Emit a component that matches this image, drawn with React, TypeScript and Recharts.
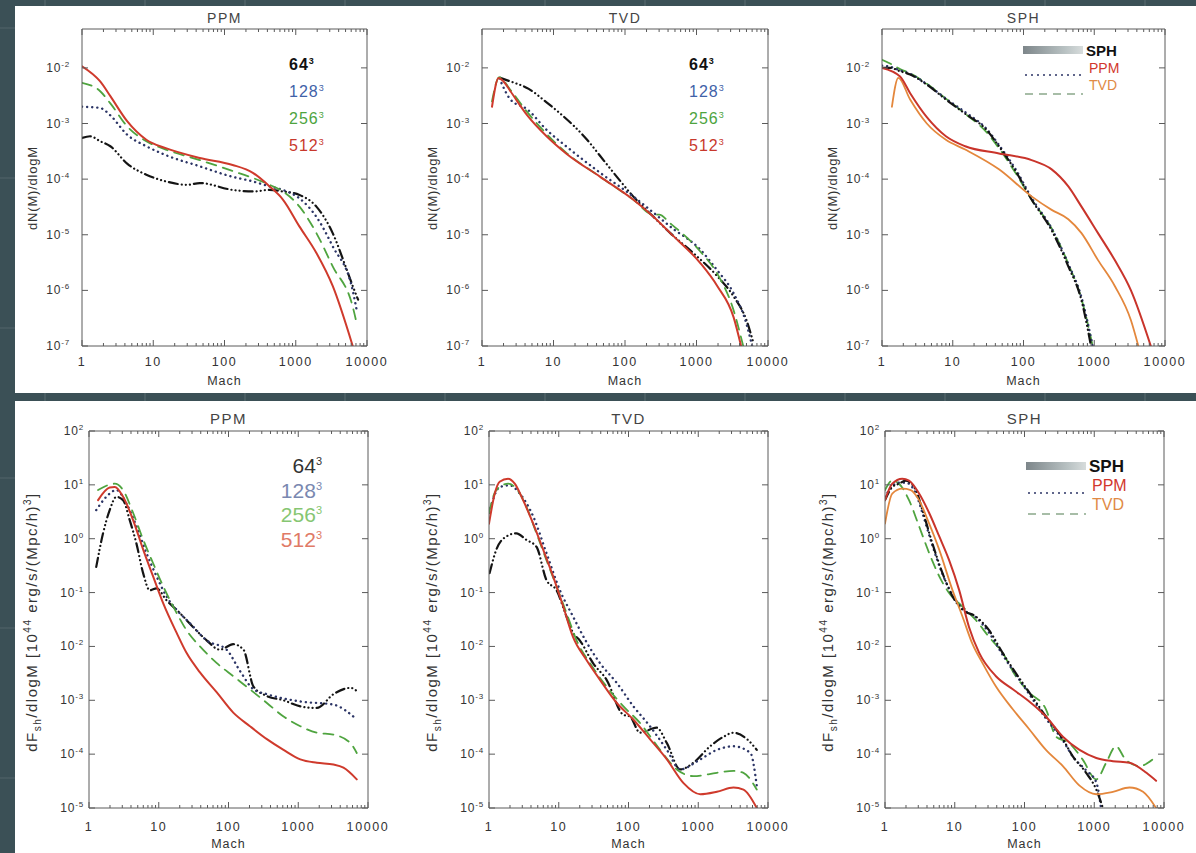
import React from "react";
import { LineChart, Line, XAxis, YAxis } from "recharts";

const FONT = '"Liberation Sans", Arial, Helvetica, sans-serif';

// ---- axis ticks ----
const machMajor = [1, 10, 100, 1000, 10000];
const machLabels = ["1", "10", "100", "1000", "10000"];
const nDecades = [1e-7, 1e-6, 1e-5, 1e-4, 1e-3, 1e-2];
const fDecades = [1e-5, 1e-4, 1e-3, 1e-2, 1e-1, 1, 10, 100];
const resLabels = ["64", "128", "256", "512"];

// ---- top row: dN(M)/dlogM ----
// PPM
const nPpm512M = [1, 1.8, 2.5, 4.3, 8, 15, 45, 130, 250, 430, 660, 1130, 1950, 3300, 6300];
const nPpm512 = [1.07e-2, 5.7e-3, 3.1e-3, 1.1e-3, 5.1e-4, 3.6e-4, 2.4e-4, 1.8e-4, 1.3e-4, 7.4e-5, 4.3e-5, 1.4e-5, 4.7e-6, 1.2e-6, 1e-7];
const nPpm256M = [1, 1.8, 2.5, 4.3, 8, 15, 45, 130, 250, 430, 660, 1130, 1950, 3300, 6300, 7300];
const nPpm256 = [5.4e-3, 3.8e-3, 2.3e-3, 8.9e-4, 4.8e-4, 3.4e-4, 2.2e-4, 1.4e-4, 1.05e-4, 7.9e-5, 6e-5, 3.2e-5, 1.07e-5, 2.7e-6, 5.1e-7, 2.3e-7];
const nPpm128M = [1, 1.8, 2.5, 4.3, 8, 15, 45, 130, 250, 430, 660, 1130, 1950, 3300, 6300, 7300];
const nPpm128 = [2e-3, 1.9e-3, 1.4e-3, 6.3e-4, 3.9e-4, 2.7e-4, 1.7e-4, 1.1e-4, 9.1e-5, 7.4e-5, 6.4e-5, 4.5e-5, 2.1e-5, 6.2e-6, 1e-6, 3.9e-7];
const nPpm64M = [1, 1.3, 1.8, 2.5, 4.3, 8, 15, 30, 45, 130, 250, 430, 660, 1130, 1950, 3300, 5000, 6300, 7500];
const nPpm64 = [5.5e-4, 5.9e-4, 4.8e-4, 3.9e-4, 1.9e-4, 1.2e-4, 9.1e-5, 7.9e-5, 8.5e-5, 6.4e-5, 6e-5, 6.4e-5, 6e-5, 5.2e-5, 3.2e-5, 1.07e-5, 2.7e-6, 1.2e-6, 6.8e-7];
// TVD
const nTvd512M = [1.38, 1.71, 2.0, 2.5, 4.3, 8, 15, 45, 130, 250, 430, 1130, 1950, 3300, 4200];
const nTvd512 = [2e-3, 6.6e-3, 5.7e-3, 3.8e-3, 1.4e-3, 5.9e-4, 2.9e-4, 1.1e-4, 4.3e-5, 2.1e-5, 1.07e-5, 3.1e-6, 1.2e-6, 3.3e-7, 1e-7];
const nTvd256M = [1.38, 1.75, 2.5, 4.3, 8, 15, 45, 130, 250, 300, 430, 1130, 1950, 3300, 4500];
const nTvd256 = [2.5e-3, 6.8e-3, 4e-3, 1.6e-3, 6.5e-4, 3e-4, 1.1e-4, 4.3e-5, 2.3e-5, 2.3e-5, 1.6e-5, 5e-6, 2e-6, 4.4e-7, 1e-7];
const nTvd128M = [1.75, 2.5, 4.3, 8, 15, 45, 130, 250, 430, 1130, 1950, 3300, 5000, 6000];
const nTvd128 = [6.5e-3, 2.7e-3, 1.8e-3, 7.7e-4, 3.9e-4, 1.3e-4, 4.9e-5, 2.5e-5, 1.4e-5, 5.4e-6, 2.3e-6, 8.9e-7, 2.5e-7, 1e-7];
const nTvd64M = [1.8, 2.5, 4.5, 8, 12.5, 29.5, 45, 77, 130, 250, 430, 900, 1950, 3300, 5000, 6300];
const nTvd64 = [6.6e-3, 5.7e-3, 4.2e-3, 2.4e-3, 1.5e-3, 5.1e-4, 2.6e-4, 1.1e-4, 4.9e-5, 2.1e-5, 1.07e-5, 4.7e-6, 1.8e-6, 7.8e-7, 2.9e-7, 1.1e-7];
// SPH
const nSphPpmM = [1, 1.8, 2.5, 4.3, 8, 15, 45, 130, 250, 430, 660, 1130, 1950, 3300, 6300];
const nSphPpm = [1e-2, 7e-3, 3.5e-3, 1.3e-3, 5.9e-4, 3.9e-4, 2.9e-4, 2.2e-4, 1.5e-4, 7.4e-5, 3.2e-5, 1.07e-5, 3.5e-6, 1e-6, 1e-7];
const nSphTvdM = [1.38, 1.7, 2.5, 4.3, 8, 15, 45, 130, 250, 430, 660, 1130, 1950, 3300, 4200];
const nSphTvd = [2e-3, 6.6e-3, 2.7e-3, 1e-3, 5.1e-4, 3.4e-4, 1.5e-4, 4.9e-5, 2.8e-5, 1.9e-5, 1.07e-5, 3.5e-6, 1.2e-6, 2.9e-7, 1e-7];
const nSphAM = [1, 1.3, 1.8, 2.5, 4.3, 8, 15, 30, 45, 80, 130, 250, 430, 660, 900];
const nSphA = [1e-2, 1e-2, 8.7e-3, 7.6e-3, 5e-3, 2.7e-3, 1.5e-3, 7.7e-4, 3.9e-4, 1.3e-4, 4.3e-5, 1.2e-5, 2.7e-6, 6.6e-7, 1e-7];
const nSphBM = [1, 1.3, 1.8, 2.5, 4.3, 8, 15, 30, 45, 80, 130, 250, 430, 660, 950];
const nSphB = [1.1e-2, 1.05e-2, 9e-3, 7.8e-3, 5.1e-3, 2.8e-3, 1.6e-3, 8e-4, 4.1e-4, 1.4e-4, 4.6e-5, 1.3e-5, 3e-6, 7.5e-7, 1e-7];
const nSphCM = [1, 1.3, 1.8, 2.5, 4.3, 8, 15, 30, 45, 80, 130, 250, 430, 660, 950];
const nSphC = [1.4e-2, 1.2e-2, 9.5e-3, 8e-3, 5.2e-3, 2.8e-3, 1.5e-3, 7e-4, 3.6e-4, 1.2e-4, 4.3e-5, 1.3e-5, 3e-6, 7e-7, 1e-7];

// ---- bottom row: dF/dlogM ----
// PPM
const fPpm512M = [1.35, 1.98, 2.34, 3.08, 4.3, 6, 8.3, 11.6, 18, 25, 39, 68, 117, 203, 355, 615, 1070, 1850, 3200, 4450, 6900];
const fPpm512 = [5.2, 8.9, 9.1, 6, 2.2, 0.62, 0.2, 0.063, 0.018, 7.6e-3, 3.3e-3, 1.4e-3, 5.9e-4, 3.3e-4, 1.9e-4, 1.2e-4, 8e-5, 6.9e-5, 6.4e-5, 5.6e-5, 3.4e-5];
const fPpm256M = [1.35, 2.34, 3.08, 4.3, 6, 8.3, 11.6, 18, 25, 39, 68, 117, 203, 355, 615, 1070, 1850, 3200, 5600, 6900];
const fPpm256 = [8, 10.5, 8, 3, 0.95, 0.35, 0.13, 0.042, 0.02, 0.01, 4.9e-3, 2.8e-3, 1.6e-3, 8.9e-4, 5e-4, 3.3e-4, 2.5e-4, 2.3e-4, 1.6e-4, 1.05e-4];
const fPpm128M = [1.27, 1.77, 2.47, 3.44, 4.79, 6.67, 9.3, 12.9, 18, 28, 48.5, 94, 146, 228, 355, 1070, 3200, 6900];
const fPpm128 = [3.4, 6, 8, 4.5, 1.7, 0.54, 0.2, 0.085, 0.048, 0.027, 0.013, 8.7e-3, 3.5e-3, 1.6e-3, 1.3e-3, 9.5e-4, 8.3e-4, 4.4e-4];
const fPpm64M = [1.27, 1.59, 1.98, 2.47, 3.08, 3.84, 4.79, 5.97, 7.44, 9.3, 12.9, 20, 31, 48.5, 75, 117, 164, 228, 355, 615, 1070, 1850, 3200, 5600, 7300];
const fPpm64 = [0.3, 1.26, 3.4, 6, 5.2, 2.2, 0.81, 0.23, 0.11, 0.12, 0.072, 0.042, 0.023, 0.013, 8.7e-3, 0.011, 8.7e-3, 1.8e-3, 1.2e-3, 1e-3, 7.7e-4, 7.2e-4, 1.3e-3, 1.7e-3, 1.4e-3];
// TVD
const fTvd512M = [1, 1.21, 1.42, 1.88, 2.34, 3.08, 4.3, 6, 8.3, 11.6, 16, 25, 39, 68, 117, 203, 355, 615, 1070, 1850, 3200, 4450, 6900];
const fTvd512 = [1.9, 6.9, 11.4, 13, 10.5, 5.2, 1.9, 0.62, 0.2, 0.055, 0.015, 5.6e-3, 2.4e-3, 8.9e-4, 4.4e-4, 1.9e-4, 8e-5, 2.9e-5, 1.8e-5, 2e-5, 2.4e-5, 2.2e-5, 1e-5];
const fTvd256M = [1, 1.27, 1.88, 2.47, 3.44, 4.79, 6.67, 9.3, 12.9, 18, 28, 48.5, 84, 146, 284, 493, 850, 1850, 3200, 4450, 6900];
const fTvd256 = [3, 8, 10.5, 8.5, 3.9, 1.26, 0.4, 0.13, 0.042, 0.013, 4.9e-3, 1.8e-3, 7.8e-4, 3.8e-4, 1.2e-4, 5.2e-5, 3.9e-5, 4.5e-5, 4.9e-5, 4.5e-5, 2.2e-5];
const fTvd128M = [1, 1.42, 1.98, 2.76, 4.3, 6.67, 10.4, 16, 25, 39, 68, 117, 203, 355, 550, 1070, 1850, 3200, 5600, 6900];
const fTvd128 = [3, 9.1, 9.8, 6.9, 2.6, 0.54, 0.11, 0.036, 0.012, 4.9e-3, 2.1e-3, 7.8e-4, 3.3e-4, 1.2e-4, 5.2e-5, 8e-5, 1.2e-4, 1.4e-4, 1.05e-4, 2.6e-5];
const fTvd64M = [1.02, 1.27, 1.77, 2.47, 3.44, 4.79, 6.67, 9.3, 12.9, 16, 20, 31, 48.5, 84, 105, 146, 253, 355, 550, 850, 1480, 2300, 3200, 5000, 6900];
const fTvd64 = [0.23, 0.62, 1.1, 1.26, 0.95, 0.71, 0.17, 0.11, 0.036, 0.018, 0.013, 4.9e-3, 2.4e-3, 5.4e-4, 5e-4, 2.5e-4, 3.1e-4, 1.6e-4, 5.2e-5, 6.9e-5, 1.4e-4, 2.1e-4, 2.5e-4, 1.9e-4, 1.2e-4];
// SPH
const fSphPpmM = [1, 1.27, 1.77, 2.21, 3.08, 4.3, 6, 8.3, 11.6, 16, 22.4, 39, 68, 117, 203, 355, 615, 1070, 1850, 3200, 5600, 7700];
const fSphPpm = [5.2, 10.5, 13, 12, 6.9, 3, 1.1, 0.4, 0.11, 0.023, 7.6e-3, 2.8e-3, 1.6e-3, 9.5e-4, 5e-4, 2.1e-4, 1.2e-4, 8.5e-5, 7.4e-5, 6.9e-5, 4.5e-5, 3.2e-5];
const fSphTvdM = [1, 1.27, 1.77, 2.34, 3.08, 4.3, 6, 9.3, 12.9, 18, 25, 39, 68, 117, 203, 355, 615, 1070, 1850, 3200, 5000, 7700];
const fSphTvd = [1.9, 6.9, 8.5, 8, 5.2, 1.9, 0.62, 0.11, 0.036, 0.011, 4.9e-3, 1.8e-3, 6.8e-4, 2.9e-4, 1.2e-4, 6e-5, 2.6e-5, 1.8e-5, 2e-5, 2.4e-5, 2e-5, 1e-5];
const fSphAM = [1, 1.27, 1.59, 1.98, 2.76, 3.44, 4.79, 6.67, 9.3, 12.9, 20, 31, 48.5, 75, 117, 203, 355, 493, 765, 1070, 1330];
const fSphA = [5.2, 9.1, 10.5, 12, 8, 3.4, 0.81, 0.23, 0.085, 0.048, 0.036, 0.02, 7.6e-3, 3.2e-3, 1.4e-3, 5e-4, 1.9e-4, 9.1e-5, 4.5e-5, 2.2e-5, 1e-5];
const fSphBM = [1, 1.27, 1.59, 1.98, 2.76, 3.44, 4.79, 6.67, 9.3, 12.9, 20, 31, 48.5, 75, 117, 203, 355, 493, 765, 1070, 1250];
const fSphB = [6, 9.5, 11, 11, 7, 3, 0.75, 0.22, 0.09, 0.05, 0.035, 0.018, 7e-3, 3e-3, 1.3e-3, 4.6e-4, 1.8e-4, 9e-5, 5e-5, 3e-5, 1e-5];
const fSphCM = [1, 1.27, 1.59, 2.21, 3.08, 4.3, 6, 8.3, 12.9, 20, 31, 48.5, 75, 117, 203, 284, 440, 680, 1070, 1480, 2050, 2800, 4450, 6900];
const fSphC = [8, 12, 10.5, 5.2, 1.7, 0.54, 0.2, 0.098, 0.055, 0.031, 0.015, 7.6e-3, 2.8e-3, 1.4e-3, 6.8e-4, 2.1e-4, 1.6e-4, 8e-5, 3.4e-5, 6.9e-5, 1.4e-4, 8e-5, 6e-5, 8e-5];

// ---- styles ----
type LineStyle = { stroke: string; strokeWidth: number; strokeDasharray?: string };
const st: Record<string, LineStyle> = {
  r64: { stroke: "#141414", strokeWidth: 2.2, strokeDasharray: "9 4 0.1 4 0.1 4 0.1 4" },
  r128: { stroke: "#2c3566", strokeWidth: 2.4, strokeDasharray: "0.1 5" },
  r256: { stroke: "#4fa43f", strokeWidth: 1.8, strokeDasharray: "10 7" },
  r512: { stroke: "#cf3a2c", strokeWidth: 2 },
  ppm: { stroke: "#c9342b", strokeWidth: 2 },
  tvd: { stroke: "#e4873c", strokeWidth: 1.8 },
};

type Series = { key: string; m: number[]; v: number[]; s: LineStyle };

const pts = (m: number[], v: number[]) => m.map((x, i) => ({ m: x, v: v[i] }));

const machMinor = machMajor
  .slice(0, -1)
  .flatMap((d) => [2, 3, 4, 5, 6, 7, 8, 9].map((k) => d * k));
const machTicks = [...machMajor, ...machMinor].sort((a, b) => a - b);

const FRAME = "#5a5a5a";

function XTick(props: any) {
  const { x, y, payload, side, labelDy } = props;
  const i = machMajor.indexOf(payload.value);
  const len = i >= 0 ? 6 : 3;
  const dir = side === "bottom" ? -1 : 1;
  return (
    <g>
      <line x1={x} y1={y} x2={x} y2={y + dir * len} stroke={FRAME} strokeWidth={1} />
      {side === "bottom" && i >= 0 && (
        <text
          x={x}
          y={y + labelDy}
          textAnchor="middle"
          fontSize={12.5}
          letterSpacing={1.6}
          fill="#333"
          fontFamily={FONT}
        >
          {machLabels[i]}
        </text>
      )}
    </g>
  );
}

function YTick(props: any) {
  const { x, y, payload, side, labelDx } = props;
  const dir = side === "left" ? 1 : -1;
  const exp = Math.round(Math.log10(payload.value));
  return (
    <g>
      <line x1={x} y1={y} x2={x + dir * 6} y2={y} stroke={FRAME} strokeWidth={1} />
      {side === "left" && (
        <text
          x={x - labelDx}
          y={y + 4}
          textAnchor="end"
          fontSize={12}
          letterSpacing={0.8}
          fill="#333"
          fontFamily={FONT}
        >
          10
          <tspan dy={-5} fontSize={8}>
            {exp}
          </tspan>
        </text>
      )}
    </g>
  );
}

type Box = { x0: number; x1: number; y0: number; y1: number };

function Panel({
  box,
  yDomain,
  yTicks,
  series,
  labelDy,
  labelDx,
}: {
  box: Box;
  yDomain: [number, number];
  yTicks: number[];
  series: Series[];
  labelDy: number;
  labelDx: number;
}) {
  const padL = 70;
  const padR = 25;
  const padT = 25;
  const padB = 40;
  const w = box.x1 - box.x0 + padL + padR;
  const h = box.y1 - box.y0 + padT + padB;
  return (
    <div style={{ position: "absolute", left: box.x0 - padL, top: box.y0 - padT }}>
      <LineChart
        width={w}
        height={h}
        margin={{ top: padT - 2, right: padR - 2, bottom: padB - 30, left: padL - 50 }}
      >
        <XAxis
          xAxisId="b"
          type="number"
          dataKey="m"
          scale="log"
          domain={[1, 10000]}
          allowDataOverflow
          ticks={machTicks}
          interval={0}
          tickSize={0}
          tickMargin={0}
          tickLine={false}
          stroke={FRAME}
          height={30}
          tick={(p: any) => <XTick {...p} side="bottom" labelDy={labelDy} />}
        />
        <XAxis
          xAxisId="t"
          orientation="top"
          type="number"
          dataKey="m"
          scale="log"
          domain={[1, 10000]}
          allowDataOverflow
          ticks={machTicks}
          interval={0}
          tickSize={0}
          tickMargin={0}
          tickLine={false}
          stroke={FRAME}
          height={2}
          tick={(p: any) => <XTick {...p} side="top" />}
        />
        <YAxis
          yAxisId="l"
          type="number"
          scale="log"
          domain={yDomain}
          allowDataOverflow
          ticks={yTicks}
          interval={0}
          tickSize={0}
          tickMargin={0}
          tickLine={false}
          stroke={FRAME}
          width={50}
          tick={(p: any) => <YTick {...p} side="left" labelDx={labelDx} />}
        />
        <YAxis
          yAxisId="r"
          orientation="right"
          type="number"
          scale="log"
          domain={yDomain}
          allowDataOverflow
          ticks={yTicks}
          interval={0}
          tickSize={0}
          tickMargin={0}
          tickLine={false}
          stroke={FRAME}
          width={2}
          tick={(p: any) => <YTick {...p} side="right" />}
        />
        {series.map((s) => (
          <Line
            key={s.key}
            xAxisId="b"
            yAxisId="l"
            data={pts(s.m, s.v)}
            dataKey="v"
            type="monotone"
            dot={false}
            activeDot={false}
            strokeLinecap="round"
            isAnimationActive={false}
            {...s.s}
          />
        ))}
      </LineChart>
    </div>
  );
}

const topBoxes: Box[] = [
  { x0: 82, x1: 367, y0: 29, y1: 346 },
  { x0: 482, x1: 768, y0: 29, y1: 346 },
  { x0: 882, x1: 1165, y0: 29, y1: 346 },
];
const botBoxes: Box[] = [
  { x0: 89, x1: 368, y0: 431, y1: 808 },
  { x0: 489, x1: 768, y0: 431, y1: 808 },
  { x0: 885, x1: 1164, y0: 431, y1: 808 },
];
const titles = ["PPM", "TVD", "SPH"];

const topSeries: Series[][] = [
  [
    { key: "64", m: nPpm64M, v: nPpm64, s: st.r64 },
    { key: "128", m: nPpm128M, v: nPpm128, s: st.r128 },
    { key: "256", m: nPpm256M, v: nPpm256, s: st.r256 },
    { key: "512", m: nPpm512M, v: nPpm512, s: st.r512 },
  ],
  [
    { key: "64", m: nTvd64M, v: nTvd64, s: st.r64 },
    { key: "128", m: nTvd128M, v: nTvd128, s: st.r128 },
    { key: "256", m: nTvd256M, v: nTvd256, s: st.r256 },
    { key: "512", m: nTvd512M, v: nTvd512, s: st.r512 },
  ],
  [
    { key: "a", m: nSphCM, v: nSphC, s: st.r256 },
    { key: "b", m: nSphBM, v: nSphB, s: st.r128 },
    { key: "c", m: nSphAM, v: nSphA, s: st.r64 },
    { key: "tvd", m: nSphTvdM, v: nSphTvd, s: st.tvd },
    { key: "ppm", m: nSphPpmM, v: nSphPpm, s: st.ppm },
  ],
];
const botSeries: Series[][] = [
  [
    { key: "64", m: fPpm64M, v: fPpm64, s: st.r64 },
    { key: "128", m: fPpm128M, v: fPpm128, s: st.r128 },
    { key: "256", m: fPpm256M, v: fPpm256, s: st.r256 },
    { key: "512", m: fPpm512M, v: fPpm512, s: st.r512 },
  ],
  [
    { key: "64", m: fTvd64M, v: fTvd64, s: st.r64 },
    { key: "128", m: fTvd128M, v: fTvd128, s: st.r128 },
    { key: "256", m: fTvd256M, v: fTvd256, s: st.r256 },
    { key: "512", m: fTvd512M, v: fTvd512, s: st.r512 },
  ],
  [
    { key: "a", m: fSphCM, v: fSphC, s: st.r256 },
    { key: "b", m: fSphBM, v: fSphB, s: st.r128 },
    { key: "c", m: fSphAM, v: fSphA, s: st.r64 },
    { key: "tvd", m: fSphTvdM, v: fSphTvd, s: st.tvd },
    { key: "ppm", m: fSphPpmM, v: fSphPpm, s: st.ppm },
  ],
];

const abs = (left: number, top: number, extra: React.CSSProperties = {}): React.CSSProperties => ({
  position: "absolute",
  left,
  top,
  fontFamily: FONT,
  lineHeight: 1,
  whiteSpace: "nowrap",
  ...extra,
});

function Centered({ cx, cy, size, color, children, rotate, spacing = 0 }: any) {
  return (
    <div
      style={abs(cx, cy, {
        fontSize: size,
        color,
        letterSpacing: spacing,
        transform: `translate(-50%, -50%)${rotate ? " rotate(-90deg)" : ""}`,
      })}
    >
      {children}
    </div>
  );
}

const topResColors = ["#111", "#3f62a8", "#4ea43e", "#c8382c"];
const botResColors = ["#333", "#7a88b0", "#86c672", "#e07a66"];

function SphLegend({ x, y, big }: { x: number; y: number; big: boolean }) {
  const fs = big ? 17 : 15;
  const gap = big ? 23 : 21;
  return (
    <>
      <div
        style={{
          position: "absolute",
          left: x,
          top: y - 4,
          width: 60,
          height: 8,
          background: "linear-gradient(90deg, #7d868a, #b9c2c3 70%, #d7dcdc)",
        }}
      />
      <div style={abs(x + 63, y - fs / 2, { fontSize: fs, fontWeight: "bold", color: "#111" })}>SPH</div>
      <svg style={{ position: "absolute", left: x, top: y + gap - 2 }} width={62} height={12}>
        <line x1={2} y1={6} x2={60} y2={6} stroke="#2c3566" strokeWidth={1.6} strokeDasharray="2 4" />
      </svg>
      <div style={abs(x + 66, y + gap - 3 - fs / 2, { fontSize: fs - 1, color: "#d2372c" })}>PPM</div>
      <svg style={{ position: "absolute", left: x, top: y + 2 * gap - 4 }} width={62} height={12}>
        <line x1={2} y1={6} x2={60} y2={6} stroke="#8aa88a" strokeWidth={1.6} strokeDasharray="8 6" />
      </svg>
      <div style={abs(x + 66, y + 2 * gap - 7 - fs / 2, { fontSize: fs - 1, color: "#e08a45" })}>TVD</div>
    </>
  );
}

export default function App() {
  return (
    <div
      style={{
        position: "absolute",
        left: 0,
        top: 0,
        width: 1196,
        height: 853,
        overflow: "hidden",
        background:
          "repeating-linear-gradient(90deg, transparent 0 44px, rgba(255,255,255,0.08) 44px 46px, transparent 46px 100px), repeating-linear-gradient(0deg, transparent 0 74px, rgba(255,255,255,0.06) 74px 76px, transparent 76px 150px), #3b5056",
      }}
    >
      <div style={{ position: "absolute", left: 15, top: 6, width: 1181, height: 387, background: "#fff" }} />
      <div style={{ position: "absolute", left: 15, top: 401, width: 1181, height: 452, background: "#fff" }} />

      {topBoxes.map((b, i) => (
        <React.Fragment key={"t" + i}>
          <Panel box={b} yDomain={[1e-7, 0.05]} yTicks={nDecades} series={topSeries[i]} labelDy={20} labelDx={12} />
          <Centered cx={(b.x0 + b.x1) / 2} cy={18} size={14} color="#444" spacing={1.5}>
            {titles[i]}
          </Centered>
          <Centered cx={(b.x0 + b.x1) / 2} cy={381} size={12.5} color="#333" spacing={1}>
            Mach
          </Centered>
          <Centered cx={b.x0 - 50} cy={(b.y0 + b.y1) / 2} size={13} color="#333" spacing={0.8} rotate>
            dN(M)/dlogM
          </Centered>
        </React.Fragment>
      ))}
      {botBoxes.map((b, i) => (
        <React.Fragment key={"b" + i}>
          <Panel box={b} yDomain={[1e-5, 100]} yTicks={fDecades} series={botSeries[i]} labelDy={23} labelDx={5} />
          <Centered cx={(b.x0 + b.x1) / 2} cy={418} size={15} color="#444" spacing={1.5}>
            {titles[i]}
          </Centered>
          <Centered cx={(b.x0 + b.x1) / 2} cy={844} size={12.5} color="#333" spacing={1}>
            Mach
          </Centered>
          <Centered cx={b.x0 - 56} cy={622} size={15} color="#333" spacing={1.5} rotate>
            dF<sub style={{ fontSize: 10 }}>sh</sub>/dlogM [10<sup style={{ fontSize: 10 }}>44</sup> erg/s/(Mpc/h)
            <sup style={{ fontSize: 10 }}>3</sup>]
          </Centered>
        </React.Fragment>
      ))}

      {[0, 1].map((p) =>
        resLabels.map((r, k) => (
          <div
            key={`tl${p}${k}`}
            style={abs(topBoxes[p].x0 + 207, 65 + k * 27 - 8, {
              fontSize: 16,
              letterSpacing: 1,
              fontWeight: k === 0 ? "bold" : "normal",
              color: topResColors[k],
            })}
          >
            {r}
            <sup style={{ fontSize: 9 }}>3</sup>
          </div>
        ))
      )}
      {resLabels.map((r, k) => (
        <div
          key={`bl${k}`}
          style={abs(322, 465 + k * 24.5 - 10, {
            fontSize: 21,
            color: botResColors[k],
            transform: "translateX(-100%)",
          })}
        >
          {r}
          <sup style={{ fontSize: 11 }}>3</sup>
        </div>
      ))}
      <SphLegend x={1023} y={50} big={false} />
      <SphLegend x={1026} y={466} big />
    </div>
  );
}
